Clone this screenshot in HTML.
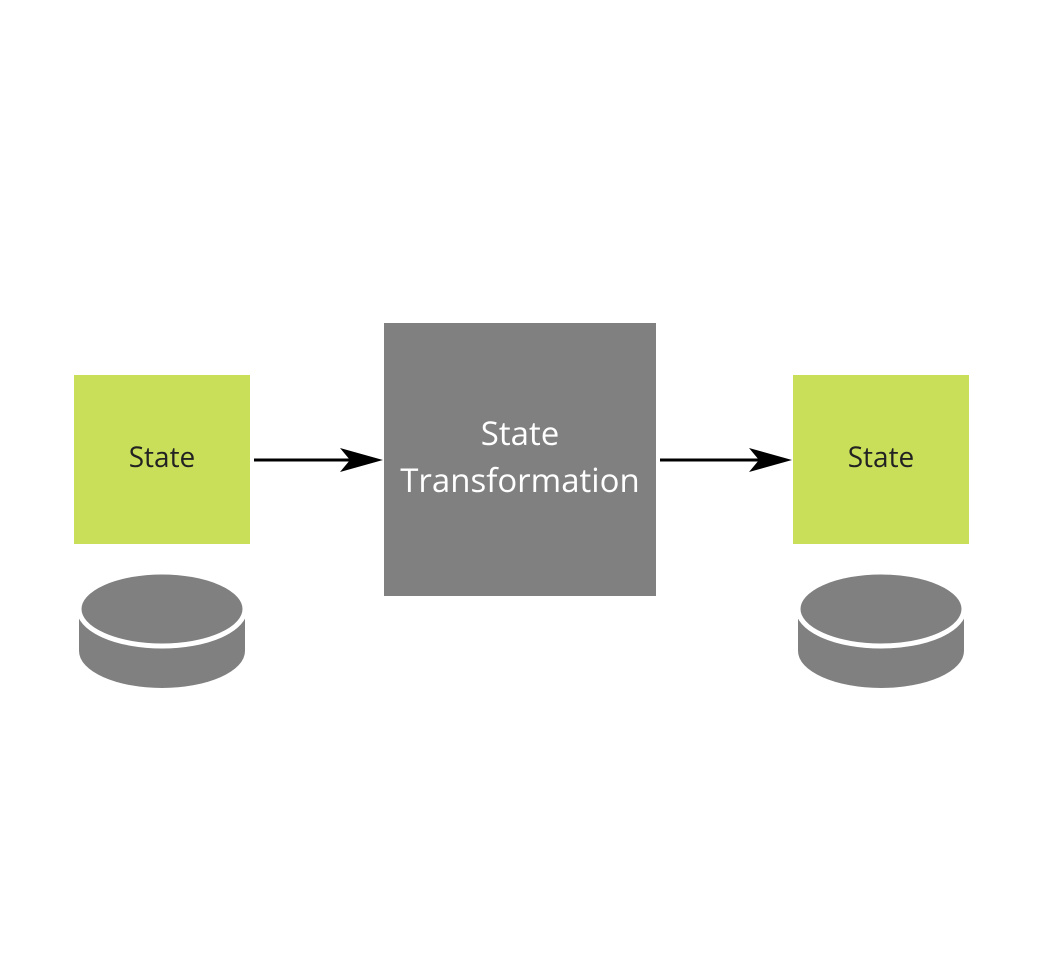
<!DOCTYPE html>
<html><head><style>
html,body{margin:0;padding:0;background:#fff;}
svg{display:block;}
text{font-family:"Open Sans","DejaVu Sans","Liberation Sans",sans-serif;}
</style></head><body>
<svg width="1037" height="963" viewBox="0 0 1037 963" xmlns="http://www.w3.org/2000/svg">
<rect x="74" y="375" width="176" height="169" fill="#c9df5a"/>
<text x="162" y="467" font-size="28" fill="#222" text-anchor="middle">State</text>
<rect x="793" y="375" width="176" height="169" fill="#c9df5a"/>
<text x="881" y="467" font-size="28" fill="#222" text-anchor="middle">State</text>
<rect x="384" y="323" width="272" height="273" fill="#808080"/>
<text x="520" y="445" font-size="33" fill="#fff" text-anchor="middle">State</text>
<text x="520" y="492" font-size="33" fill="#fff" text-anchor="middle">Transformation</text>
<line x1="254" y1="460" x2="350" y2="460" stroke="#000" stroke-width="3"/>
<path d="M383 460 L340 448 L350 460 L340 472 Z" fill="#000"/>
<line x1="660" y1="460" x2="760" y2="460" stroke="#000" stroke-width="3"/>
<path d="M792 460 L749 448 L759 460 L749 472 Z" fill="#000"/>
<g>
<path d="M79 609 L79 651 A83 37 0 0 0 245 651 L245 609 Z" fill="#808080"/>
<ellipse cx="162" cy="609" rx="83" ry="37" fill="#808080" stroke="#fff" stroke-width="5"/>
</g>
<g transform="translate(719,0)">
<path d="M79 609 L79 651 A83 37 0 0 0 245 651 L245 609 Z" fill="#808080"/>
<ellipse cx="162" cy="609" rx="83" ry="37" fill="#808080" stroke="#fff" stroke-width="5"/>
</g>
</svg>
</body></html>
